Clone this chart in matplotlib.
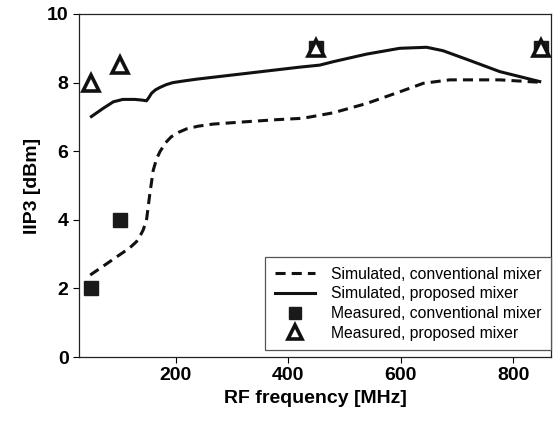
import matplotlib
matplotlib.use("Agg")
import matplotlib.pyplot as plt

plt.rcParams['font.family'] = ['Liberation Sans', 'DejaVu Sans']

# simulated curves
sim_conv_f = [48, 80, 118, 130, 136, 142, 148, 154, 160, 166, 172, 182, 192, 205, 219, 240,
              266, 326, 380, 426, 480, 539, 598, 640, 687, 776, 847]
sim_conv_v = [2.39, 2.75, 3.18, 3.36, 3.51, 3.7, 3.99, 4.77, 5.45, 5.78, 5.99, 6.25, 6.42,
              6.55, 6.65, 6.73, 6.79, 6.86, 6.92, 6.96, 7.12, 7.39, 7.73, 7.98, 8.08, 8.08,
              8.01]
sim_prop_f = [50, 71, 89, 106, 127, 140, 148, 152, 157, 164, 172, 183, 195, 215, 237, 326,
              420, 456, 480, 539, 598, 646, 675, 717, 776, 847]
sim_prop_v = [7.01, 7.25, 7.44, 7.51, 7.51, 7.49, 7.47, 7.56, 7.69, 7.79, 7.86, 7.94, 8.0,
              8.05, 8.1, 8.27, 8.45, 8.51, 8.61, 8.83, 9.0, 9.03, 8.93, 8.68, 8.32, 8.03]

# measured points
meas_conv_f = [50, 100, 450, 850]
meas_conv_v = [2, 4, 9, 9]
meas_prop_f = [50, 100, 450, 850]
meas_prop_v = [8, 8.5, 9, 9]

fig = plt.figure(figsize=(5.54, 4.23), dpi=100)
ax = fig.add_axes([79/554, 1-357/423, (551-79)/554, (357-14)/423])

ax.plot(sim_conv_f, sim_conv_v, color='#111111', lw=2.2, linestyle=(0, (3.3, 2.0)),
        label='Simulated, conventional mixer')
ax.plot(sim_prop_f, sim_prop_v, color='#111111', lw=2.2, label='Simulated, proposed mixer')
ax.plot(meas_conv_f, meas_conv_v, 's', color='#1a1a1a', ms=10.5, mec='#1a1a1a',
        label='Measured, conventional mixer', zorder=4)
ax.plot(meas_prop_f, meas_prop_v, '^', mfc='white', mec='#111111', mew=2.6, ms=12,
        label='Measured, proposed mixer', zorder=5)

ax.set_xlim(28, 867)
ax.set_ylim(0, 10)
ax.set_xticks([200, 400, 600, 800])
ax.set_yticks([0, 2, 4, 6, 8, 10])
ax.tick_params(direction='out', length=4, width=0.8, labelsize=14, top=False, right=False)
for lab in ax.get_xticklabels() + ax.get_yticklabels():
    lab.set_fontweight('bold')
for s in ax.spines.values():
    s.set_linewidth(0.9)
    s.set_color('#222222')

ax.set_xlabel('RF frequency [MHz]', fontsize=14, fontweight='bold')
ax.set_ylabel('IIP3 [dBm]', fontsize=14, fontweight='bold')

leg = ax.legend(loc='lower right', bbox_to_anchor=(1.0, 0.02), borderaxespad=0,
                fontsize=11.3, handlelength=2.6, handletextpad=1.0, fancybox=False,
                framealpha=1, edgecolor='#555555', labelspacing=0.3, borderpad=0.6,
                markerscale=0.8)
leg.get_frame().set_linewidth(0.9)

fig.savefig('out.png', dpi=100)
